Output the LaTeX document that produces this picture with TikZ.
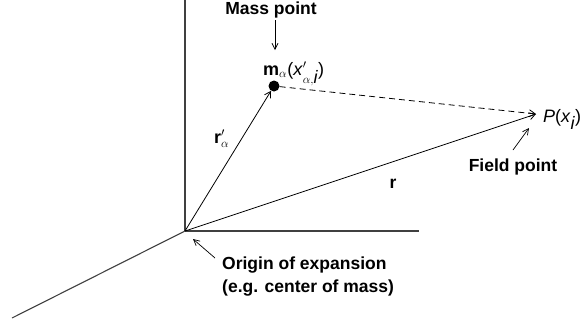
\documentclass[tikz,border=0pt]{standalone}
\usepackage{fontspec}
\setmainfont{Liberation Sans}
\usetikzlibrary{arrows.meta}
\tikzset{
  axis/.style={draw=black!75, line width=1.1pt},
  vec/.style={draw=black, line width=0.8pt, -{Straight Barb[length=6pt,width=7pt,line width=0.8pt]}},
  pointer/.style={draw=black, line width=0.7pt, -{Straight Barb[length=6pt,width=6pt,line width=0.7pt]}},
  lbl/.style={font=\fontsize{17.5}{23}\selectfont\bfseries, inner sep=0pt},
  mlbl/.style={font=\fontsize{18}{20}\selectfont, inner sep=0pt}
}
\begin{document}
\begin{tikzpicture}[x=1pt,y=-1pt]
\useasboundingbox (0,0) rectangle (582,325);
% axes
\coordinate (O) at (185,231);
\coordinate (ztop) at (185,0);
\coordinate (xend) at (419,231);
\coordinate (yend) at (12,318);
\draw[axis] (O) -- (ztop);
\draw[axis] (O) -- (xend);
\draw[axis] (O) -- (yend);
% mass point and field point
\node[circle, fill=black, inner sep=0pt, minimum size=11pt] (M) at (274,86) {};
\coordinate (P) at (536,114);
\draw[vec] (O) -- (M);
\draw[vec] (O) -- (P);
\draw[vec, dashed, dash pattern=on 6pt off 4pt] (M) -- (P);
% labels
\node[lbl, anchor=base] (mp) at (271,14) {Mass point};
\coordinate (mpa) at (275,20);
\coordinate (mpb) at (275,50);
\draw[pointer] (mpa) -- (mpb);
\node[mlbl, anchor=base west] (ml) at (263,75) {\textbf{m}$_{\alpha}$(\textit{x}$^{\prime}_{\alpha,\textit{i}}$)};
\node[mlbl, anchor=base west] (pl) at (543,122) {\textit{P}(\textit{x}$_{\textit{i}}$)};
\node[lbl, anchor=base] (fp) at (513,171) {Field point};
\coordinate (fpa) at (513,150);
\coordinate (fpb) at (529,128);
\draw[pointer] (fpa) -- (fpb);
\node[mlbl, anchor=base west] (ra) at (214,143) {\textbf{r}$^{\prime}_{\alpha}$};
\node[lbl, anchor=base] (r) at (393,188) {r};
\node[lbl, anchor=base west, align=left] (orig) at (222,292) {Origin of expansion\\(e.g. center of mass)};
\coordinate (oa) at (215,258);
\coordinate (ob) at (193,239);
\draw[pointer] (oa) -- (ob);
\end{tikzpicture}
\end{document}
